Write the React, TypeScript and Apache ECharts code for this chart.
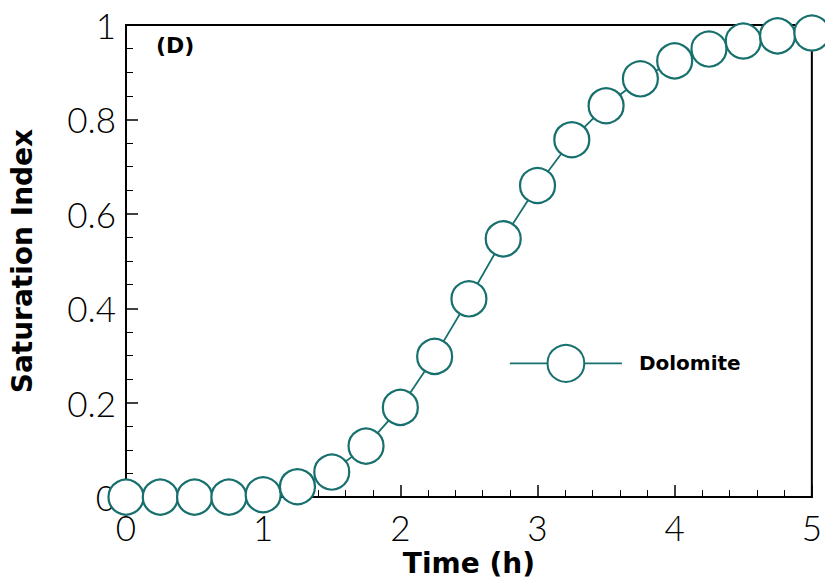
import React, { useEffect, useRef } from "react";
import * as echarts from "echarts";

const timeH = [0, 0.25, 0.5, 0.75, 1, 1.25, 1.5, 1.75, 2, 2.25, 2.5, 2.75, 3, 3.25, 3.5, 3.75, 4, 4.25, 4.5, 4.75, 5];
const dolomite = [0, 0, 0, 0, 0.005, 0.022, 0.053, 0.108, 0.19, 0.298, 0.42, 0.547, 0.66, 0.757, 0.829, 0.886, 0.924, 0.949, 0.966, 0.977, 0.983];
const xTicks = [0, 1, 2, 3, 4, 5];
const yTicks = [0, 0.2, 0.4, 0.6, 0.8, 1];

const COLOR = "#17706e";
const FONT = "Lato, 'DejaVu Sans', sans-serif";
const BOLD = "'DejaVu Sans', sans-serif";

export default function App() {
  const ref = useRef<HTMLDivElement>(null);
  useEffect(() => {
    const chart = echarts.init(ref.current!, undefined, { renderer: "svg" });
    chart.setOption({
      animation: false,
      backgroundColor: "#ffffff",
      grid: { left: 123, top: 25, right: 10, bottom: 84, show: true, borderColor: "#000", borderWidth: 2, backgroundColor: "transparent" },
      xAxis: {
        type: "value",
        min: 0,
        max: 5,
        interval: 1,
        name: "Time (h)",
        nameLocation: "middle",
        nameGap: 48,
        nameTextStyle: { fontFamily: BOLD, fontWeight: "bold", fontSize: 28, color: "#000" },
        axisLine: { show: true, lineStyle: { color: "#000", width: 2 } },
        axisTick: { show: true, inside: true, length: 12, lineStyle: { color: "#000", width: 1.5 } },
        minorTick: { show: true, splitNumber: 5, length: 7, lineStyle: { color: "#000", width: 1 } },
        splitLine: { show: false },
        axisLabel: {
          fontFamily: FONT, fontWeight: 300, fontSize: 35, color: "#000", margin: 12,
          formatter: (v: number) => (xTicks.includes(v) ? String(v) : ""),
        },
      },
      yAxis: {
        type: "value",
        min: 0,
        max: 1,
        interval: 0.2,
        name: "Saturation Index",
        nameLocation: "middle",
        nameGap: 90,
        nameTextStyle: { fontFamily: BOLD, fontWeight: "bold", fontSize: 28, color: "#000" },
        axisLine: { show: true, lineStyle: { color: "#000", width: 2 } },
        axisTick: { show: true, inside: true, length: 12, lineStyle: { color: "#000", width: 1.5 } },
        minorTick: { show: true, splitNumber: 4, length: 7, lineStyle: { color: "#000", width: 1 } },
        splitLine: { show: false },
        axisLabel: {
          fontFamily: FONT, fontWeight: 300, fontSize: 35, color: "#000", margin: 10,
          formatter: (v: number) => {
            const t = yTicks.find((y) => Math.abs(y - v) < 1e-9);
            return t === undefined ? "" : String(Number(t.toFixed(1)));
          },
        },
      },
      legend: {
        show: true,
        left: 504,
        top: 339,
        itemWidth: 112,
        itemHeight: 46,
        itemGap: 10,
        itemStyle: { color: "#ffffff", borderColor: COLOR, borderWidth: 2 },
        lineStyle: { color: COLOR, width: 1.8 },
        textStyle: { fontFamily: BOLD, fontWeight: "bold", fontSize: 20, color: "#000", padding: [0, 0, 0, 12] },
        data: ["Dolomite"],
      },
      graphic: [
        { type: "text", left: 156, top: 34, style: { text: "(D)", fontFamily: BOLD, fontWeight: "bold", fontSize: 22, fill: "#000" } },
      ],
      series: [
        {
          name: "Dolomite",
          type: "line",
          data: timeH.map((t, i) => [t, dolomite[i]]),
          symbol: "circle",
          symbolSize: 35,
          clip: false,
          lineStyle: { color: COLOR, width: 1.8 },
          itemStyle: { color: "#ffffff", borderColor: COLOR, borderWidth: 2.2 },
        },
      ],
    });
    return () => chart.dispose();
  }, []);
  return <div ref={ref} style={{ position: "fixed", left: 0, top: 0, width: 825, height: 582 }} />;
}
